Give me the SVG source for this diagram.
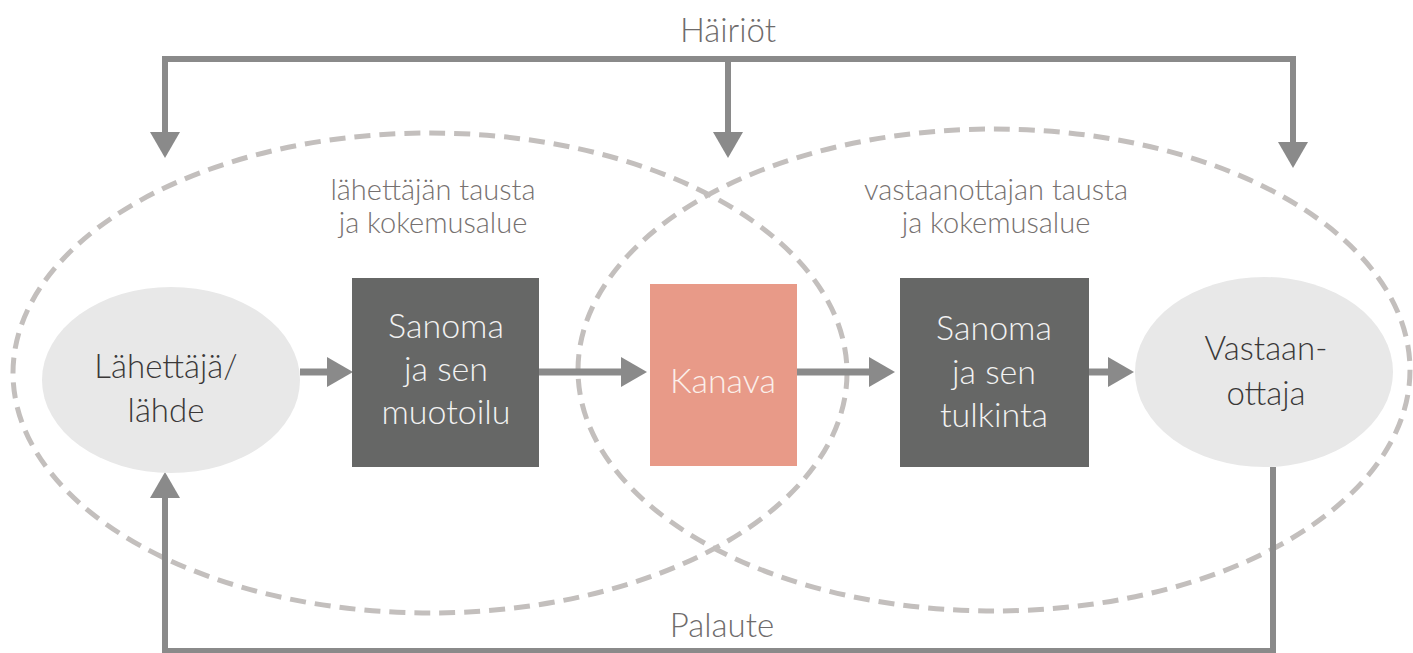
<svg xmlns="http://www.w3.org/2000/svg" width="1413" height="653" viewBox="0 0 1413 653">
  <style>
    .txt { font-family: Lato, "Liberation Sans", sans-serif; font-weight: 300; text-anchor: middle; }
    .zone { fill: none; stroke: #c3bfbd; stroke-width: 5; stroke-dasharray: 16 9; }
    .conn { fill: none; stroke: #8a8a8a; stroke-width: 6; stroke-linejoin: miter; }
    .flow { fill: none; stroke: #8a8a8a; stroke-width: 7; }
    .person { fill: #e8e8e8; }
    .msg { fill: #666766; }
    .chan { fill: #e89a88; }
    .dark { fill: #3a3838; font-size: 33px; }
    .light { fill: #f2f2f2; font-size: 34px; }
    .label { fill: #767170; font-size: 29px; }
    .big { fill: #6e6b6b; font-size: 33px; }
  </style>
  <defs>
    <marker id="ah" markerUnits="userSpaceOnUse" markerWidth="26" markerHeight="30" viewBox="0 0 26 30" refX="0" refY="15" orient="auto-start-reverse">
      <path d="M0,0 L26,15 L0,30 Z" fill="#8a8a8a"/>
    </marker>
  </defs>
  <rect width="1413" height="653" fill="#ffffff"/>

  <g id="zones">
    <ellipse class="zone" cx="430" cy="373" rx="417" ry="240"/>
    <ellipse class="zone" cx="994" cy="370" rx="416" ry="241"/>
    <text class="txt label" x="433" y="200">lähettäjän tausta</text>
    <text class="txt label" x="433" y="233">ja kokemusalue</text>
    <text class="txt label" x="996" y="200">vastaanottajan tausta</text>
    <text class="txt label" x="996" y="233">ja kokemusalue</text>
  </g>

  <g id="connectors">
    <path class="conn" d="M165,132 V59 H1293 V142" marker-start="url(#ah)" marker-end="url(#ah)"/>
    <path class="conn" d="M728,59 V132" marker-end="url(#ah)"/>
    <path class="conn" d="M1273,467 V651 H165 V498" marker-end="url(#ah)"/>
    <path class="flow" d="M300,372 H327" marker-end="url(#ah)"/>
    <path class="flow" d="M539,372 H621" marker-end="url(#ah)"/>
    <path class="flow" d="M797,372 H869" marker-end="url(#ah)"/>
    <path class="flow" d="M1089,372 H1108" marker-end="url(#ah)"/>
    <text class="txt big" x="728" y="42">Häiriöt</text>
    <text class="txt big" x="722" y="637">Palaute</text>
  </g>

  <g id="sender">
    <ellipse class="person" cx="171" cy="380" rx="129" ry="93"/>
    <text class="txt dark" x="166" y="378">Lähettäjä/</text>
    <text class="txt dark" x="166" y="422">lähde</text>
  </g>

  <g id="message-encoding">
    <rect class="msg" x="352" y="278" width="187" height="189"/>
    <text class="txt light" x="446" y="338">Sanoma</text>
    <text class="txt light" x="446" y="381">ja sen</text>
    <text class="txt light" x="446" y="424">muotoilu</text>
  </g>

  <g id="channel">
    <rect class="chan" x="650" y="284" width="147" height="182"/>
    <text class="txt light" x="723" y="393" style="fill:#fbefea">Kanava</text>
  </g>

  <g id="message-decoding">
    <rect class="msg" x="900" y="278" width="189" height="189"/>
    <text class="txt light" x="994" y="340">Sanoma</text>
    <text class="txt light" x="994" y="384">ja sen</text>
    <text class="txt light" x="994" y="427">tulkinta</text>
  </g>

  <g id="receiver">
    <ellipse class="person" cx="1264" cy="372" rx="129" ry="95"/>
    <text class="txt dark" x="1266" y="360">Vastaan-</text>
    <text class="txt dark" x="1266" y="405">ottaja</text>
  </g>
</svg>
